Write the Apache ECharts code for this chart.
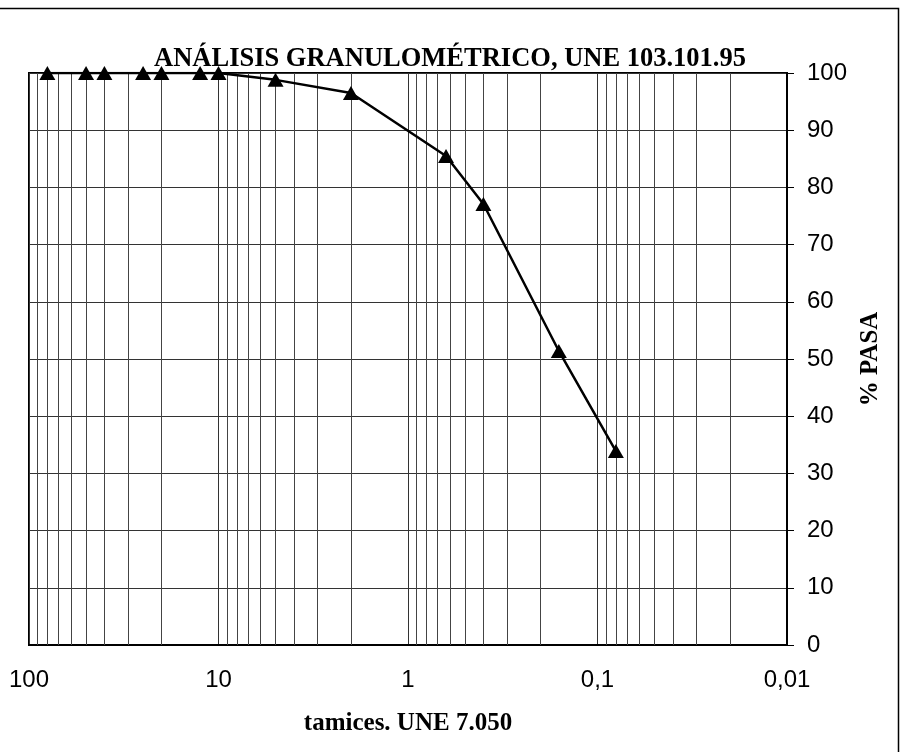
<!DOCTYPE html>
<html>
<head>
<meta charset="utf-8">
<script src="https://cdn.jsdelivr.net/npm/echarts@6/dist/echarts.min.js"></script>
<style>
  html, body { margin: 0; padding: 0; background: #fff; }
  #chart { width: 900px; height: 752px; }
</style>
</head>
<body>
<div id="chart"></div>
<script>
// Sieve openings (mm) and cumulative percent passing
const sieveSizes = [80, 50, 40, 25, 20, 12.5, 10, 5, 2, 0.63, 0.4, 0.16, 0.08];
const percentPassing = [100, 100, 100, 100, 100, 100, 100, 98.8, 96.5, 85.5, 77.1, 51.4, 33.9];

// Decade tick labels written with decimal comma
const decadeValues = [100, 10, 1, 0.1, 0.01];
const decadeLabels = ['100', '10', '1', '0,1', '0,01'];

// Intermediate log grid lines (2..9 in each decade)
const minorGridValues = [];
[10, 1, 0.1, 0.01].forEach(function (base) {
  for (let k = 2; k <= 9; k++) minorGridValues.push(+(base * k).toPrecision(3));
});

const sansFont = '"Liberation Sans", Arial, sans-serif';
const serifFont = '"Liberation Serif", "Times New Roman", serif';

const chart = echarts.init(document.getElementById('chart'), null, { renderer: 'canvas' });

chart.setOption({
  animation: false,
  backgroundColor: '#fff',
  title: {
    text: 'ANÁLISIS GRANULOMÉTRICO, UNE 103.101.95',
    left: 'center',
    top: 41,
    textStyle: { fontFamily: serifFont, fontWeight: 'bold', fontSize: 26.5, color: '#000' }
  },
  graphic: [{
    type: 'polyline',
    shape: { points: [[0, 8.5], [898.5, 8.5], [898.5, 752]] },
    style: { stroke: '#000', lineWidth: 1.5, fill: null },
    silent: true
  }],
  grid: {
    left: 29, right: 113, top: 73, bottom: 107,
    show: true, borderColor: '#000', borderWidth: 2, backgroundColor: 'transparent'
  },
  xAxis: {
    type: 'log',
    logBase: 10,
    min: 0.01,
    max: 100,
    inverse: true,
    name: 'tamices. UNE 7.050',
    nameLocation: 'middle',
    nameGap: 66,
    nameTextStyle: { fontFamily: serifFont, fontWeight: 'bold', fontSize: 25, color: '#000' },
    axisLine: { show: true, lineStyle: { color: '#000', width: 2 } },
    axisTick: { show: false },
    axisLabel: {
      margin: 23,
      fontFamily: sansFont,
      fontSize: 24,
      color: '#000',
      formatter: function (v) {
        const i = decadeValues.findIndex(function (d) { return Math.abs(Math.log10(d) - Math.log10(v)) < 1e-6; });
        return i >= 0 ? decadeLabels[i] : '';
      }
    },
    splitLine: { show: true, lineStyle: { color: '#333', width: 1 } }
  },
  yAxis: {
    type: 'value',
    position: 'right',
    min: 0,
    max: 100,
    interval: 10,
    name: '% PASA',
    nameLocation: 'middle',
    nameRotate: 90,
    nameGap: 70,
    nameTextStyle: { fontFamily: serifFont, fontWeight: 'bold', fontSize: 25, color: '#000' },
    axisLine: { show: true, lineStyle: { color: '#000', width: 2 } },
    axisTick: { show: true, inside: false, length: 7, lineStyle: { color: '#000', width: 1 } },
    axisLabel: { margin: 20, fontFamily: sansFont, fontSize: 24, color: '#000' },
    splitLine: { show: true, lineStyle: { color: '#333', width: 1 } }
  },
  series: [{
    type: 'line',
    data: sieveSizes.map(function (s, i) { return [s, percentPassing[i]]; }),
    symbol: 'triangle',
    symbolSize: [16, 14],
    showSymbol: true,
    itemStyle: { color: '#000' },
    lineStyle: { color: '#000', width: 2.5 },
    z: 5,
    markLine: {
      silent: true,
      symbol: ['none', 'none'],
      label: { show: false },
      lineStyle: { color: '#444', width: 1, type: 'solid' },
      data: minorGridValues.map(function (v) { return { xAxis: v }; }),
      z: 1
    }
  }]
});
</script>
</body>
</html>
